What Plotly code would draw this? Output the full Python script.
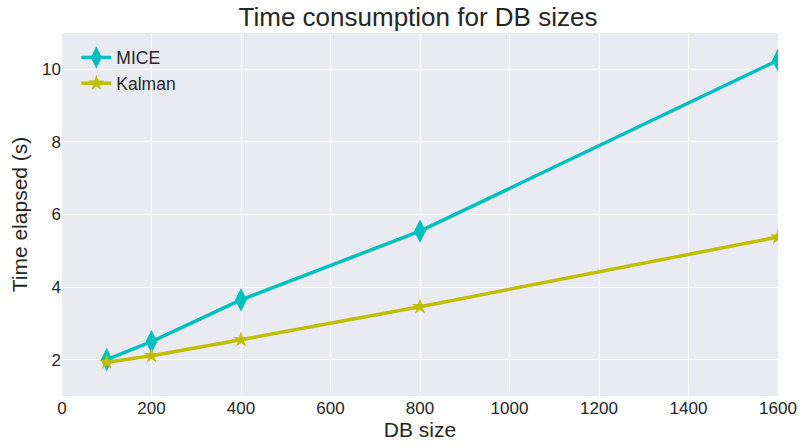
import plotly.graph_objects as go

db_sizes = [100, 200, 400, 800, 1600]
mice_times = [2.0, 2.5, 3.65, 5.54, 10.25]
kalman_times = [1.93, 2.11, 2.55, 3.46, 5.38]
x_ticks = [0, 200, 400, 600, 800, 1000, 1200, 1400, 1600]
y_ticks = [2, 4, 6, 8, 10]

fig = go.Figure()
fig.add_trace(go.Scatter(
    x=db_sizes, y=mice_times, name="MICE", mode="lines+markers",
    line=dict(color="#00BFBF", width=3.5),
    marker=dict(symbol="diamond-tall", size=17, color="#00BFBF"),
))
fig.add_trace(go.Scatter(
    x=db_sizes, y=kalman_times, name="Kalman", mode="lines+markers",
    line=dict(color="#BFBF00", width=3.5),
    marker=dict(symbol="star", size=12, color="#BFBF00"),
))

font = "Liberation Sans, Arial, sans-serif"
fig.update_layout(
    width=800, height=446,
    margin=dict(l=62, r=22, t=33, b=50, autoexpand=False),
    paper_bgcolor="white", plot_bgcolor="#EAEAF2",
    font=dict(family=font, color="#262626", size=17),
    title=dict(text="Time consumption for DB sizes", x=0.5225, xanchor="center",
               y=0.982, yanchor="top", font=dict(size=26, color="#262626")),
    legend=dict(x=0.02, y=0.982, xanchor="left", yanchor="top",
                bgcolor="rgba(0,0,0,0)", font=dict(size=17.5), tracegroupgap=0),
    showlegend=True,
)
fig.update_xaxes(range=[0, 1600], tickvals=x_ticks, gridcolor="white", gridwidth=1,
                 zeroline=False, showline=False, ticks="", automargin=False,
                 title=dict(text="DB size", font=dict(size=21), standoff=0),
                 tickfont=dict(size=17))
fig.update_yaxes(range=[1, 11], tickvals=y_ticks, gridcolor="white", gridwidth=1,
                 zeroline=False, showline=False, ticks="", automargin=False,
                 title=dict(text="Time elapsed (s)", font=dict(size=21), standoff=8),
                 tickfont=dict(size=17))

fig.write_html("out.html")
